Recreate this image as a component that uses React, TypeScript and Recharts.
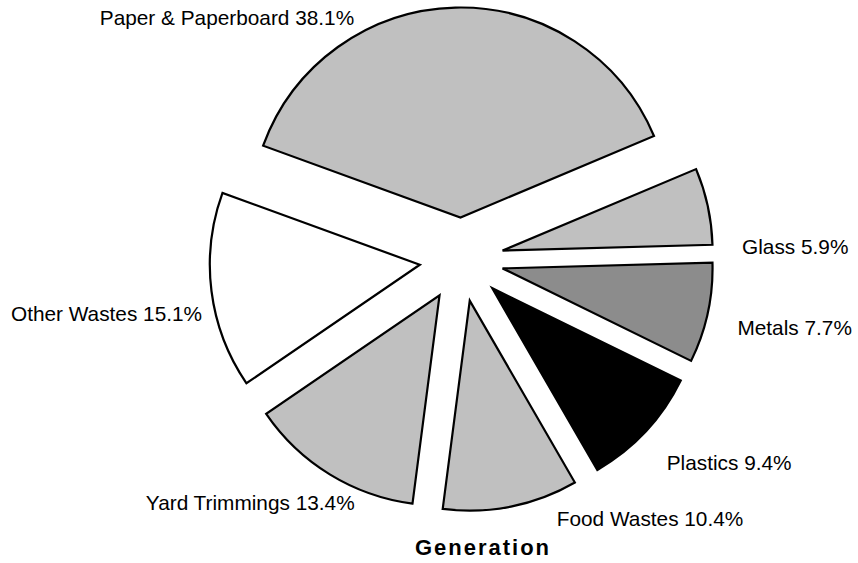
import { PieChart, Pie, Cell, Sector } from 'recharts'

// counter-clockwise from the Glass/Metals split
const CATEGORIES = [
  'Glass',
  'Paper & Paperboard',
  'Other Wastes',
  'Yard Trimmings',
  'Food Wastes',
  'Plastics',
  'Metals',
]
const SHARES = [5.9, 38.1, 15.1, 13.4, 10.4, 9.4, 7.7]
const FILLS = ['#c0c0c0', '#c0c0c0', '#ffffff', '#c0c0c0', '#c0c0c0', '#000000', '#8c8c8c']

const data = CATEGORIES.map((name, i) => ({ name, value: SHARES[i] }))

const EXPLODE = 42
const FONT = '"Liberation Sans", Arial, Helvetica, sans-serif'

// label centre as [angle deg, distance px] from the pie centre
const LABEL_POLAR: [number, number][] = [
  [2.3, 334],
  [134.1, 337],
  [188.6, 359],
  [229, 322],
  [306.1, 320],
  [322.8, 336],
  [348.5, 340],
]

// eslint-disable-next-line @typescript-eslint/no-explicit-any
function ExplodedSector(props: any) {
  const { cx, cy, midAngle } = props
  const rad = (-midAngle * Math.PI) / 180
  return (
    <Sector
      {...props}
      cx={cx + EXPLODE * Math.cos(rad)}
      cy={cy + EXPLODE * Math.sin(rad)}
    />
  )
}

// eslint-disable-next-line @typescript-eslint/no-explicit-any
function SliceLabel(props: any) {
  const { cx, cy, index, name, value } = props
  const [angle, dist] = LABEL_POLAR[index]
  const rad = (-angle * Math.PI) / 180
  return (
    <text
      x={cx + dist * Math.cos(rad)}
      y={cy + dist * Math.sin(rad)}
      textAnchor="middle"
      dominantBaseline="central"
      fontSize={20.8}
      fontFamily={FONT}
      fill="#000"
    >
      {`${name} ${value}%`}
    </text>
  )
}

export default function App() {
  return (
    <div style={{ position: 'absolute', left: 0, top: 0, width: 858, height: 563, background: '#fff' }}>
      <PieChart width={858} height={563} margin={{ top: 0, right: 0, bottom: 0, left: 0 }}>
        <Pie
          data={data}
          dataKey="value"
          nameKey="name"
          cx={461.5}
          cy={259.5}
          outerRadius={210}
          startAngle={1.6}
          endAngle={361.6}
          stroke="#000"
          strokeWidth={2.2}
          shape={ExplodedSector}
          activeShape={ExplodedSector}
          label={SliceLabel}
          labelLine={false}
          isAnimationActive={false}
        >
          {data.map((d, i) => (
            <Cell key={d.name} fill={FILLS[i]} />
          ))}
        </Pie>
      </PieChart>
      <div
        style={{
          position: 'absolute',
          left: 381,
          top: 537,
          width: 200,
          paddingLeft: 2,
          textAlign: 'center',
          fontFamily: FONT,
          fontWeight: 'bold',
          fontSize: 22,
          lineHeight: '22px',
          letterSpacing: 2,
        }}
      >
        Generation
      </div>
    </div>
  )
}
